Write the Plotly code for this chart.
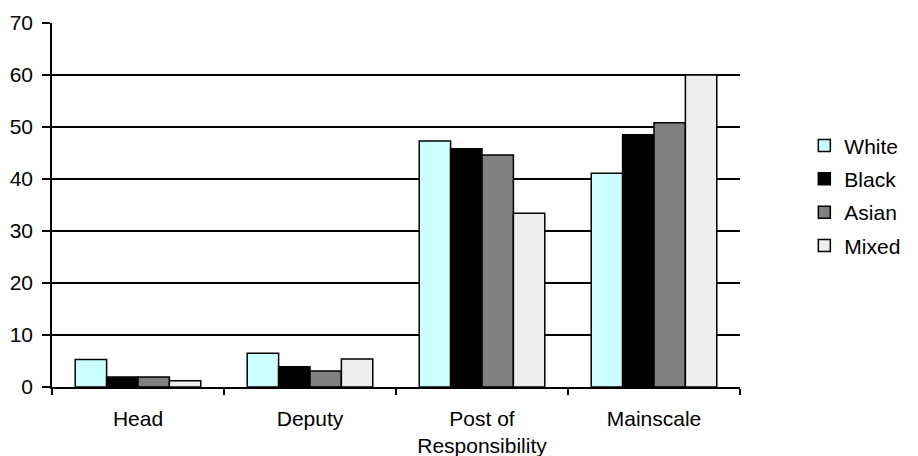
import plotly.graph_objects as go

# Share of staff in each post type, by ethnic group (%)
categories = ["Head", "Deputy", "Post of<br>Responsibility", "Mainscale"]
groups = ["White", "Black", "Asian", "Mixed"]
white = [5.3, 6.5, 47.3, 41.1]
black = [1.9, 3.9, 45.8, 48.5]
asian = [1.9, 3.1, 44.6, 50.8]
mixed = [1.2, 5.4, 33.4, 60.0]
y_ticks = [0, 10, 20, 30, 40, 50, 60, 70]

series = [white, black, asian, mixed]
colors = ["#CCFFFF", "#000000", "#808080", "#EEEEEE"]

FONT = "Liberation Sans, Arial, sans-serif"

fig = go.Figure()
for name, vals, col in zip(groups, series, colors):
    fig.add_trace(go.Bar(
        x=categories, y=vals, name=name, legendgroup=name,
        marker=dict(color=col, line=dict(color="#000000", width=1.5)),
    ))

fig.update_layout(
    width=918, height=456,
    margin=dict(l=52, r=160, t=23, b=69),
    paper_bgcolor="white", plot_bgcolor="white",
    barmode="group", bargap=0.27, bargroupgap=0,
    font=dict(family=FONT, size=21, color="#000000"),
    legend=dict(
        x=1.0935, xanchor="left", y=0.525, yanchor="middle",
        font=dict(family=FONT, size=21, color="#000000"),
        tracegroupgap=3, itemwidth=30,
        bgcolor="rgba(0,0,0,0)",
    ),
    xaxis=dict(
        automargin=False,
        showline=True, linecolor="#000000", linewidth=1.5,
        ticks="outside", tickson="boundaries", ticklen=6,
        tickcolor="#000000", tickwidth=1.5,
        ticklabelstandoff=12,
        showgrid=False,
    ),
    yaxis=dict(
        automargin=False,
        range=[0, 70], tickvals=y_ticks,
        showline=True, linecolor="#000000", linewidth=1.5,
        ticks="outside", ticklen=8, tickcolor="#000000", tickwidth=1.5,
        ticklabelstandoff=5,
        showgrid=True, gridcolor="#000000", gridwidth=1.5,
        zeroline=False,
    ),
)

fig.write_html("out.html")
